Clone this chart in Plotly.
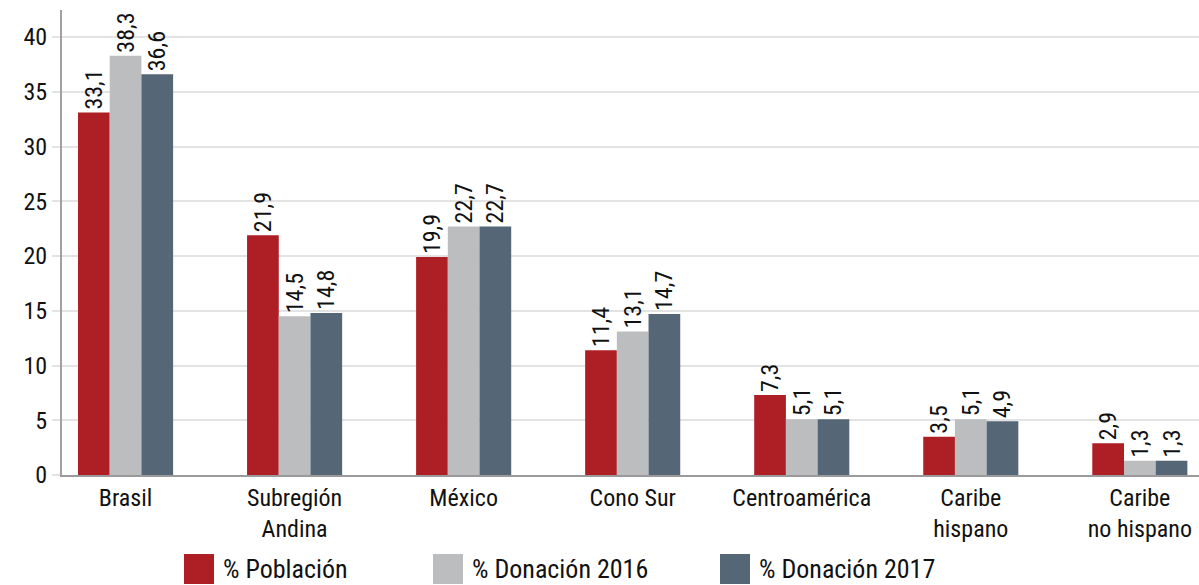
import plotly.graph_objects as go

categories = ["Brasil", "Subregión<br>Andina", "México", "Cono Sur", "Centroamérica",
              "Caribe<br>hispano", "Caribe<br>no hispano"]
poblacion = [33.1, 21.9, 19.9, 11.4, 7.3, 3.5, 2.9]
donacion_2016 = [38.3, 14.5, 22.7, 13.1, 5.1, 5.1, 1.3]
donacion_2017 = [36.6, 14.8, 22.7, 14.7, 5.1, 4.9, 1.3]
series_names = ["% Población", "% Donación 2016", "% Donación 2017"]
colors = ["#AE1E25", "#BCBDBF", "#556676"]
y_ticks = [0, 5, 10, 15, 20, 25, 30, 35, 40]

FONT = "Roboto Condensed, Liberation Sans Narrow, Roboto, sans-serif"
TXT = "#111111"

fig = go.Figure()
for name, vals, col in zip(series_names, [poblacion, donacion_2016, donacion_2017], colors):
    fig.add_trace(go.Bar(
        x=categories, y=vals, name=name, marker=dict(color=col, line=dict(width=0)),
        texttemplate="%{y:.1f}", textposition="outside", textangle=-90,
        constraintext="none",
        textfont=dict(size=24, color=TXT, family=FONT), cliponaxis=False,
        showlegend=False,
    ))

W, H = 1199, 585
L, R, T, B = 62, 0, 10, 110
pw, ph = W - L - R, H - T - B

def px_x(x):
    return (x - L) / pw

def px_y(y):
    return (H - B - y) / ph

legend_items = [(184, series_names[0], colors[0]), (433, series_names[1], colors[1]),
                (720, series_names[2], colors[2])]
for x0, name, col in legend_items:
    fig.add_shape(type="rect", xref="paper", yref="paper",
                  x0=px_x(x0), x1=px_x(x0 + 30), y0=px_y(584), y1=px_y(554),
                  fillcolor=col, line=dict(width=0))
    fig.add_annotation(xref="paper", yref="paper", x=px_x(x0 + 37), y=px_y(569),
                       text=name, showarrow=False, xanchor="left", yanchor="middle",
                       font=dict(size=26, color=TXT, family=FONT))

fig.update_layout(
    width=W, height=H, margin=dict(l=L, r=R, t=T, b=B, autoexpand=False),
    plot_bgcolor="white", paper_bgcolor="white",
    barmode="group", bargap=0.4375, bargroupgap=0,
    separators=",.",
    font=dict(family=FONT, color=TXT, size=21),
    xaxis=dict(range=[-0.376, 6.35], showgrid=False, showline=True, linecolor="#9A9A9C",
               linewidth=2, ticks="", automargin=False, ticklabelstandoff=0,
               tickfont=dict(size=24, family=FONT, color=TXT)),
    yaxis=dict(range=[0, 42.47], tickvals=y_ticks, showgrid=True, gridcolor="#E3E3E3",
               gridwidth=1.5, zeroline=False, showline=True, linecolor="#A0A0A2", linewidth=2,
               ticks="outside", ticklen=8, tickcolor="#E3E3E3", tickwidth=1.5,
               automargin=False,
               tickfont=dict(size=24, family=FONT, color=TXT)),
)

fig.write_html("out.html", config={"displayModeBar": False})
with open("out.html", encoding="utf-8") as f:
    html = f.read()
html = html.replace("<head>", "<head><style>html,body{margin:0;padding:0;overflow:hidden;}</style>", 1)
with open("out.html", "w", encoding="utf-8") as f:
    f.write(html)
